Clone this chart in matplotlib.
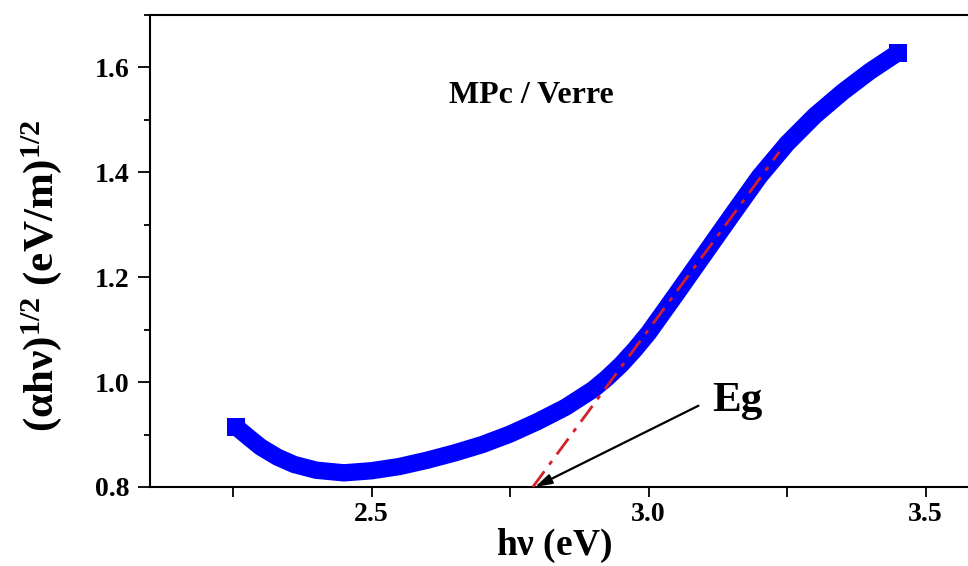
import matplotlib
matplotlib.use("Agg")
import matplotlib.pyplot as plt
from matplotlib.ticker import MultipleLocator

# ---- data ----
hv = [2.255, 2.28, 2.30, 2.33, 2.36, 2.40, 2.45, 2.50, 2.55, 2.60, 2.65, 2.70,
      2.75, 2.80, 2.85, 2.90, 2.925, 2.95, 2.975, 3.00, 3.05, 3.10, 3.15, 3.20,
      3.25, 3.30, 3.35, 3.40, 3.45]
ahv = [0.915, 0.893, 0.876, 0.857, 0.843, 0.832, 0.827, 0.831, 0.839, 0.851,
       0.865, 0.881, 0.901, 0.925, 0.952, 0.986, 1.008, 1.033, 1.062, 1.094,
       1.168, 1.243, 1.318, 1.392, 1.455, 1.508, 1.553, 1.593, 1.628]
tangent_x = [2.791, 3.236]
tangent_y = [0.80, 1.439]
arrow_tail = (3.09, 0.955)
arrow_head = (2.795, 0.80)
x_ticks = [2.5, 3.0, 3.5]
y_ticks = [0.8, 1.0, 1.2, 1.4, 1.6]

plt.rcParams['font.family'] = ['Liberation Serif', 'DejaVu Serif']
plt.rcParams['font.weight'] = 'bold'
plt.rcParams['mathtext.fontset'] = 'custom'
plt.rcParams['mathtext.rm'] = 'Liberation Serif'
plt.rcParams['mathtext.bf'] = 'Liberation Serif:bold'
plt.rcParams['mathtext.it'] = 'Liberation Serif:italic'

W, H = 968, 566
fig = plt.figure(figsize=(W / 100, H / 100), dpi=100)
left, right, top, bottom = 150, 981, 15, 487
ax = fig.add_axes([left / W, (H - bottom) / H, (right - left) / W, (bottom - top) / H])

ax.plot(hv, ahv, color='#0000FF', lw=12.5, marker='s', ms=12.5, markevery=[0, -1],
        markeredgewidth=0, solid_joinstyle='round', solid_capstyle='butt', zorder=2)
ax.plot(tangent_x, tangent_y, color='#D42026', lw=2.0, ls=(0, (7, 3, 1.6, 3)), zorder=3)

ax.annotate('', xy=arrow_head, xytext=arrow_tail,
            arrowprops=dict(arrowstyle='-|>,head_length=1.0,head_width=0.3',
                            color='black', lw=1.6, shrinkA=0, shrinkB=0), zorder=4)
ax.text(3.114, 0.945, 'Eg', fontsize=31, fontweight='bold', ha='left', va='baseline')
ax.text(2.789, 1.533, 'MPc / Verre', fontsize=23, fontweight='bold', ha='center', va='baseline')

ax.set_xlim(2.1, 3.6)
ax.set_ylim(0.8, 1.7)
ax.set_xticks(x_ticks)
ax.set_yticks(y_ticks)
ax.set_xticklabels([f"{v:.1f}" for v in x_ticks])
ax.set_yticklabels([f"{v:.1f}" for v in y_ticks])
ax.xaxis.set_minor_locator(MultipleLocator(0.25))
ax.yaxis.set_minor_locator(MultipleLocator(0.1))
ax.tick_params(axis='x', which='major', direction='out', length=7, width=1.3, labelsize=20, pad=4)
ax.tick_params(axis='x', which='minor', direction='out', length=7, width=1.3)
ax.tick_params(axis='y', which='major', direction='out', length=9, width=1.3, labelsize=20, pad=6)
ax.tick_params(axis='y', which='minor', direction='out', length=4.5, width=1.3)
ax.tick_params(top=False, right=False, which='both')
for lab in ax.get_xticklabels() + ax.get_yticklabels():
    lab.set_fontweight('bold')

for s in ['left', 'bottom', 'top', 'right']:
    ax.spines[s].set_linewidth(1.5)

ax.set_xlabel(r'h$\mathbf{\nu}$ (eV)', fontsize=27, fontweight='bold', va='baseline', ha='center')
ax.xaxis.set_label_coords(0.486, -0.143)
ax.set_ylabel(r'$\mathbf{(\alpha h\nu)}^{\mathrm{1/2}}\ \mathbf{(eV/m)}^{\mathrm{1/2}}$',
              fontsize=31, va='center', ha='center')
ax.yaxis.set_label_coords(-0.130, 0.447)

fig.savefig('out.png', dpi=100)
